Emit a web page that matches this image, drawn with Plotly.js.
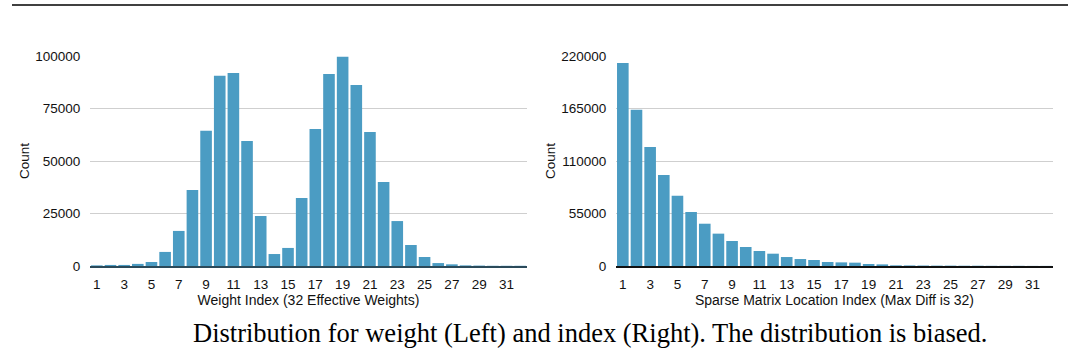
<!DOCTYPE html>
<html>
<head>
<meta charset="utf-8">
<script src="https://cdn.plot.ly/plotly-3.0.1.min.js"></script>
<style>html,body{margin:0;padding:0;background:#fff;}#chart{width:1081px;height:357px;}</style>
</head>
<body>
<div id="chart"></div>
<script>
const indexCats = Array.from({length: 32}, (_, i) => i + 1);
const weightCounts = [300, 500, 500, 1000, 1900, 6700, 16700, 36200, 64400, 90600, 91900, 59500, 23800, 5700, 8600, 32400,
  65200, 91400, 99700, 86200, 63800, 40000, 21400, 10000, 4300, 1400, 800, 300, 200, 100, 100, 100];
const locationCounts = [212700, 163800, 124700, 95300, 73700, 56600, 44300, 33900, 26200, 19900, 15700, 12900, 9400, 7300, 6300, 4200,
  3800, 3500, 2100, 1700, 700, 600, 500, 400, 400, 300, 300, 200, 200, 200, 100, 100];
const xTicks = [1, 3, 5, 7, 9, 11, 13, 15, 17, 19, 21, 23, 25, 27, 29, 31];
const leftYTicks = [0, 25000, 50000, 75000, 100000];
const rightYTicks = [0, 55000, 110000, 165000, 220000];
const leftXTitle = 'Weight Index (32 Effective Weights)';
const rightXTitle = 'Sparse Matrix Location Index (Max Diff is 32)';
const yTitle = 'Count';
const caption = 'Distribution for weight (Left) and index (Right). The distribution is biased.';

const barColor = '#4b9cc3';
const tickFont = {family: 'Liberation Sans, Arial, sans-serif', size: 13.5, color: '#111'};
const titleFont = {family: 'Liberation Sans, Arial, sans-serif', size: 14, color: '#111'};

const traces = [
  {type: 'bar', x: indexCats, y: weightCounts, xaxis: 'x', yaxis: 'y', marker: {color: barColor, line: {width: 0}}, hoverinfo: 'x+y'},
  {type: 'bar', x: indexCats, y: locationCounts, xaxis: 'x2', yaxis: 'y2', marker: {color: barColor, line: {width: 0}}, hoverinfo: 'x+y'}
];

function xAxis(domain, title, lineColor) {
  return {
    domain: domain, range: [0.5, 32.5], tickvals: xTicks, ticktext: xTicks.map(String),
    ticks: 'outside', ticklen: 5, tickcolor: 'rgba(0,0,0,0)', tickfont: tickFont,
    showgrid: false, zeroline: false, showline: true, linecolor: lineColor, linewidth: 2,
    title: {text: title, font: titleFont, standoff: 4}, fixedrange: true
  };
}
function yAxis(domain, range, ticks, anchor) {
  return {
    domain: domain, range: range, tickvals: ticks, ticktext: ticks.map(String), anchor: anchor,
    ticks: 'outside', ticklen: 6, tickcolor: 'rgba(0,0,0,0)', tickfont: tickFont,
    showgrid: true, gridcolor: '#cfcfcf', gridwidth: 1, zeroline: false, showline: false,
    title: {text: yTitle, font: {family: titleFont.family, size: 13.5, color: '#111'}, standoff: 2}, fixedrange: true
  };
}

const yDom = [91 / 357, 301 / 357];
const layout = {
  width: 1081, height: 357,
  margin: {l: 0, r: 0, t: 0, b: 0},
  paper_bgcolor: '#fff', plot_bgcolor: '#fff',
  showlegend: false, bargap: 0.15,
  font: tickFont,
  xaxis: xAxis([90 / 1081, 527 / 1081], leftXTitle, '#2b4a5a'),
  yaxis: yAxis(yDom, [0, 100000], leftYTicks, 'x'),
  xaxis2: xAxis([616 / 1081, 1053 / 1081], rightXTitle, '#111'),
  yaxis2: yAxis(yDom, [0, 220000], rightYTicks, 'x2'),
  shapes: [
    {type: 'line', xref: 'paper', yref: 'paper', x0: 12 / 1081, x1: 1068 / 1081, y0: 1 - 5 / 357, y1: 1 - 5 / 357,
     line: {color: '#000', width: 1.5}}
  ],
  annotations: [
    {text: caption, xref: 'paper', yref: 'paper', x: 590 / 1081, y: 1 - 333 / 357, xanchor: 'center', yanchor: 'middle',
     showarrow: false, font: {family: 'Liberation Serif, Times New Roman, serif', size: 26.5, color: '#000'}}
  ]
};

Plotly.newPlot('chart', traces, layout, {staticPlot: true, displayModeBar: false});
</script>
</body>
</html>
